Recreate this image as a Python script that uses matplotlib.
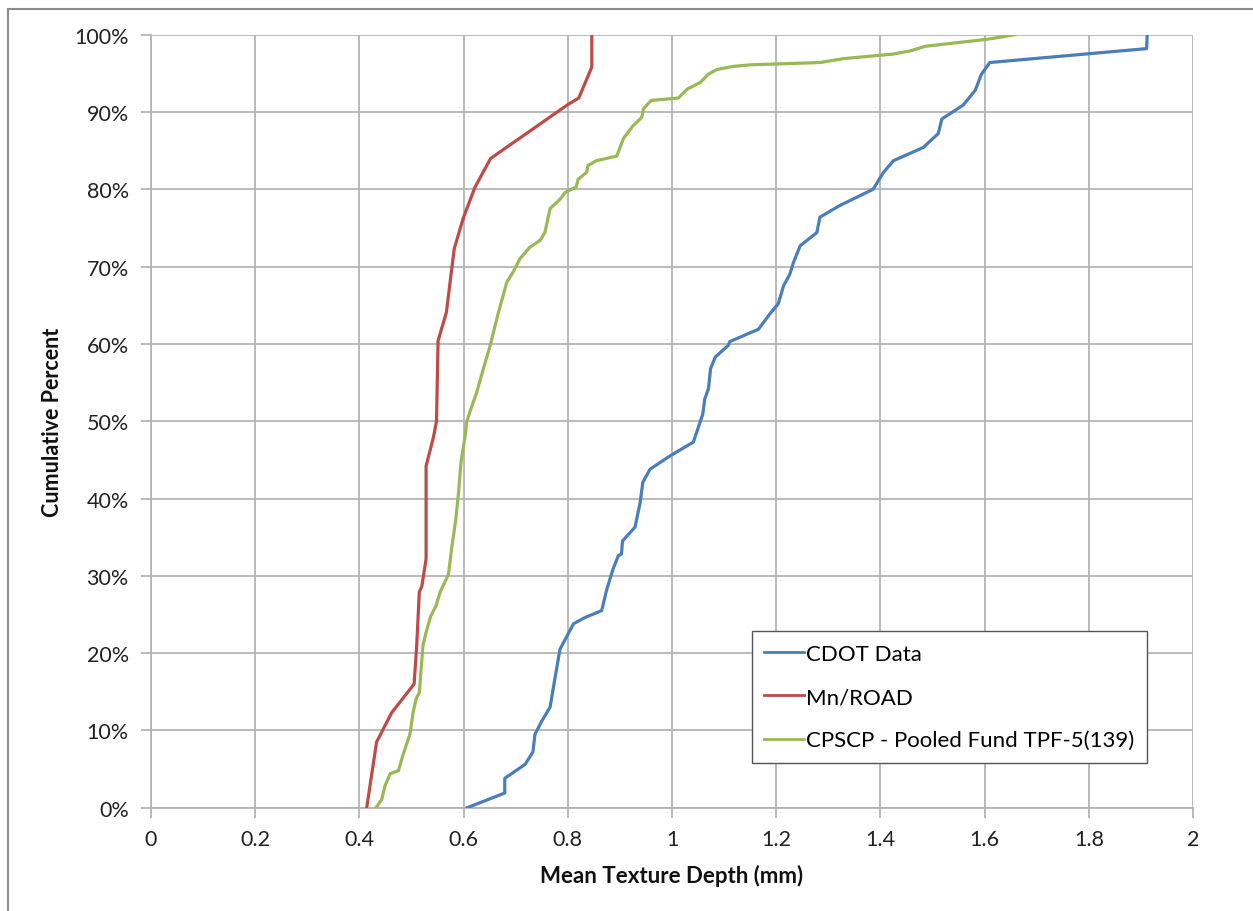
import matplotlib
matplotlib.use("Agg")
import matplotlib.pyplot as plt
from matplotlib.lines import Line2D

# ---- data ----
cdot_x = [0.607, 0.679, 0.679, 0.718, 0.733, 0.737, 0.750, 0.766, 0.775, 0.785, 0.811, 0.833,
          0.865, 0.875, 0.887, 0.897, 0.903, 0.905, 0.929, 0.939, 0.944, 0.958, 0.996, 1.041,
          1.059, 1.063, 1.070, 1.074, 1.083, 1.108, 1.111, 1.166, 1.188, 1.204, 1.214, 1.226,
          1.233, 1.246, 1.278, 1.284, 1.322, 1.386, 1.406, 1.425, 1.482, 1.511, 1.518, 1.559,
          1.582, 1.594, 1.610, 1.911, 1.912]
cdot_y = [0, 1.9, 3.8, 5.6, 7.2, 9.5, 11.2, 13.0, 16.6, 20.5, 23.8, 24.6,
          25.5, 28.3, 30.9, 32.6, 32.8, 34.5, 36.3, 39.5, 42.1, 43.8, 45.5, 47.3,
          50.9, 52.9, 54.2, 56.8, 58.3, 59.8, 60.3, 61.9, 63.9, 65.2, 67.5, 69.0,
          70.5, 72.7, 74.4, 76.4, 77.9, 80.0, 82.2, 83.7, 85.4, 87.2, 89.1, 90.9,
          92.8, 94.9, 96.4, 98.2, 100]

mnroad_x = [0.414, 0.433, 0.462, 0.505, 0.510, 0.515, 0.520, 0.528, 0.528, 0.542, 0.548,
            0.551, 0.567, 0.582, 0.599, 0.622, 0.652, 0.801, 0.821, 0.846, 0.846]
mnroad_y = [0, 8.5, 12.3, 16.0, 21.0, 27.9, 28.7, 32.2, 44.2, 47.9, 50.0,
            60.4, 64.1, 72.3, 76.2, 80.3, 84.0, 91.0, 91.8, 95.8, 100]

cpscp_x = [0.432, 0.443, 0.449, 0.459, 0.475, 0.484, 0.497, 0.503, 0.509, 0.515, 0.522,
           0.528, 0.537, 0.547, 0.555, 0.571, 0.577, 0.585, 0.590, 0.595, 0.603, 0.606,
           0.612, 0.625, 0.638, 0.651, 0.667, 0.683, 0.695, 0.708, 0.727, 0.747, 0.756,
           0.766, 0.785, 0.795, 0.816, 0.820, 0.836, 0.839, 0.855, 0.894, 0.907, 0.925,
           0.942, 0.945, 0.960, 1.012, 1.030, 1.054, 1.070, 1.086, 1.118, 1.150, 1.284,
           1.329, 1.425, 1.457, 1.486, 1.604, 1.623, 1.658]
cpscp_y = [0, 1.1, 2.8, 4.4, 4.8, 6.9, 9.5, 12.3, 14.1, 14.9, 21.0,
           22.7, 24.8, 26.1, 27.9, 30.2, 33.5, 37.3, 40.6, 44.7, 48.1, 49.9,
           51.2, 53.7, 56.8, 59.8, 64.1, 68.0, 69.3, 71.0, 72.5, 73.4, 74.4,
           77.5, 78.7, 79.6, 80.3, 81.3, 82.2, 83.1, 83.7, 84.3, 86.6, 88.2,
           89.3, 90.4, 91.5, 91.8, 93.0, 93.8, 94.9, 95.5, 95.9, 96.1, 96.4,
           96.9, 97.5, 97.9, 98.5, 99.4, 99.6, 100]

series_names = ["CDOT Data", "Mn/ROAD", "CPSCP - Pooled Fund TPF-5(139)"]
series_colors = ["#4a7ebb", "#be4b48", "#98b954"]

x_ticks = [0, 0.2, 0.4, 0.6, 0.8, 1.0, 1.2, 1.4, 1.6, 1.8, 2.0]
x_tick_labels = ["0", "0.2", "0.4", "0.6", "0.8", "1", "1.2", "1.4", "1.6", "1.8", "2"]
y_ticks = [0, 10, 20, 30, 40, 50, 60, 70, 80, 90, 100]
y_tick_labels = ["0%", "10%", "20%", "30%", "40%", "50%", "60%", "70%", "80%", "90%", "100%"]

# ---- figure ----
plt.rcParams['font.family'] = ['Lato', 'DejaVu Sans']
W, H = 1253, 912
fig = plt.figure(figsize=(W / 100, H / 100), dpi=100)
ax = fig.add_axes([151 / W, 1 - 808.7 / H, (1193 - 151) / W, (808.7 - 35.7) / H])

for xs, ys, name, col in zip([cdot_x, mnroad_x, cpscp_x], [cdot_y, mnroad_y, cpscp_y],
                             series_names, series_colors):
    ax.plot(xs, ys, color=col, lw=2.3, label=name, solid_joinstyle='round', zorder=3)

ax.set_xlim(0, 2)
ax.set_ylim(0, 100)
ax.set_xticks(x_ticks)
ax.set_xticklabels(x_tick_labels)
ax.set_yticks(y_ticks)
ax.set_yticklabels(y_tick_labels)

ax.grid(True, color="#b4b4b4", lw=1.3, zorder=0)
for s in ["top", "right"]:
    ax.spines[s].set_visible(False)
for s in ["left", "bottom"]:
    ax.spines[s].set_color("#b4b4b4")
    ax.spines[s].set_linewidth(1.3)
ax.tick_params(axis='both', length=7, width=1.3, color="#b4b4b4", labelsize=15.5,
               labelcolor="#222222")
ax.tick_params(axis='x', pad=8)
ax.tick_params(axis='y', pad=9)

ax.set_xlabel("Mean Texture Depth (mm)", fontsize=16, fontweight='bold', labelpad=11,
              color="#111111")
ax.set_ylabel("Cumulative Percent", fontsize=15.5, fontweight='bold', labelpad=8,
              color="#111111")

leg = ax.legend(loc='upper left', bbox_to_anchor=(0.5765, 0.228), fontsize=16,
                frameon=True, fancybox=False, edgecolor="#555555", framealpha=1,
                handlelength=1.8, handletextpad=0.1, labelspacing=1.05,
                borderpad=0.55, borderaxespad=0)
leg.get_frame().set_linewidth(1.0)
for h in leg.get_lines():
    h.set_linewidth(2.0)

# figure border
fig.add_artist(Line2D([8 / W, 1.0], [1 - 10 / H, 1 - 10 / H], color="#8c8c8c", lw=1.5,
                      transform=fig.transFigure))
fig.add_artist(Line2D([8 / W, 8 / W], [0.0, 1 - 10 / H], color="#8c8c8c", lw=1.5,
                      transform=fig.transFigure))

fig.savefig("out.png", dpi=100)
